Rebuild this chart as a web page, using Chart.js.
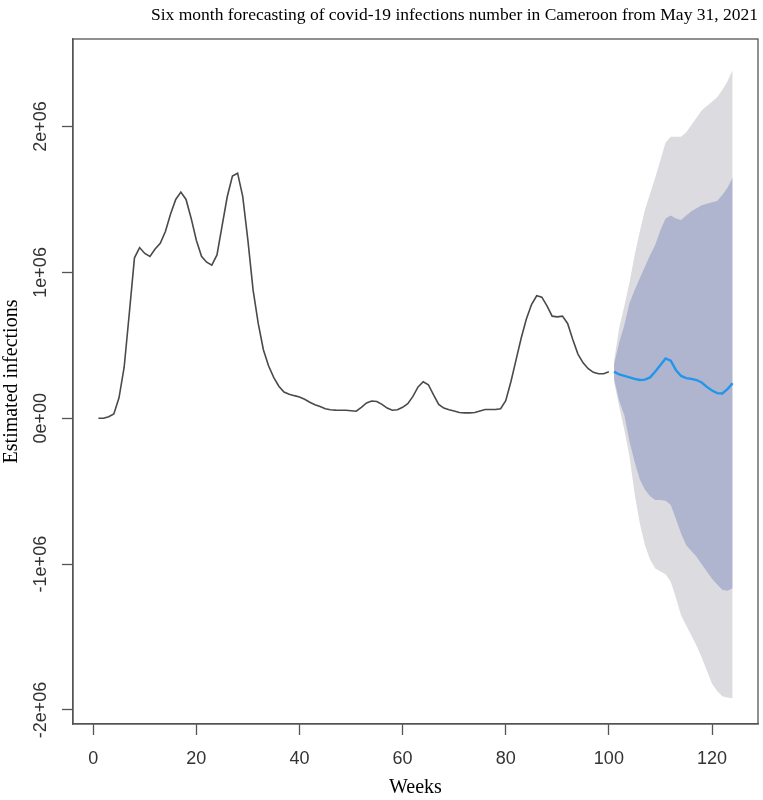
<!DOCTYPE html>
<html><head><meta charset="utf-8">
<script src="https://cdn.jsdelivr.net/npm/chart.js@4.4.1/dist/chart.umd.min.js"></script>
<style>html,body{margin:0;padding:0;background:#fff;}#wrap{width:763px;height:800px;}canvas{display:block;}</style>
</head><body>
<div id="wrap"><canvas id="c" width="763" height="800"></canvas></div>
<script>
const chartTitle = 'Six month forecasting of covid-19 infections number in Cameroon from May 31, 2021';
const xTitle = 'Weeks';
const yTitle = 'Estimated infections';

const histWeeks = [1,2,3,4,5,6,7,8,9,10,11,12,13,14,15,16,17,18,19,20,21,22,23,24,25,26,27,28,29,30,31,32,33,34,35,36,37,38,39,40,41,42,43,44,45,46,47,48,49,50,51,52,53,54,55,56,57,58,59,60,61,62,63,64,65,66,67,68,69,70,71,72,73,74,75,76,77,78,79,80,81,82,83,84,85,86,87,88,89,90,91,92,93,94,95,96,97,98,99,100];
const histValues = [0,0,10000,30000,140000,350000,720000,1100000,1170000,1130000,
  1110000,1160000,1200000,1280000,1400000,1500000,1550000,1500000,1370000,1220000,
  1110000,1070000,1050000,1120000,1320000,1520000,1660000,1680000,1520000,1220000,
  880000,650000,470000,360000,280000,220000,180000,165000,155000,146000,
  130000,110000,93000,80000,65000,58000,56000,55000,55000,52000,
  48000,75000,105000,118000,115000,95000,70000,55000,58000,75000,
  100000,150000,215000,250000,230000,160000,95000,70000,58000,50000,
  40000,37000,37000,40000,50000,60000,60000,60000,65000,120000,
  250000,400000,550000,680000,780000,840000,830000,770000,700000,695000,
  700000,650000,540000,440000,380000,340000,315000,305000,305000,318000];

const fcWeeks = [101,102,103,104,105,106,107,108,109,110,111,112,113,114,115,116,117,118,119,120,121,122,123,124];
const fcMean = [320000,300000,290000,280000,270000,262000,265000,280000,320000,365000,410000,395000,330000,290000,275000,270000,262000,245000,215000,190000,172000,170000,200000,240000];
const fcUpper80 = [370000,520000,640000,790000,880000,960000,1040000,1120000,1190000,1290000,1370000,1390000,1370000,1360000,1390000,1420000,1440000,1460000,1470000,1480000,1490000,1530000,1580000,1650000];
const fcLower80 = [270000,120000,20000,-160000,-300000,-420000,-490000,-535000,-560000,-560000,-565000,-595000,-690000,-790000,-870000,-910000,-950000,-1000000,-1050000,-1100000,-1140000,-1176000,-1183000,-1165000];
const fcUpper95 = [390000,620000,770000,930000,1120000,1280000,1430000,1540000,1650000,1770000,1890000,1930000,1930000,1930000,1960000,2010000,2060000,2110000,2140000,2170000,2200000,2250000,2310000,2390000];
const fcLower95 = [250000,80000,-80000,-260000,-520000,-720000,-870000,-970000,-1030000,-1050000,-1070000,-1120000,-1230000,-1350000,-1420000,-1490000,-1560000,-1640000,-1730000,-1820000,-1870000,-1905000,-1915000,-1920000];

const xTickValues = [0,20,40,60,80,100,120];
const yTickValues = [-2000000,-1000000,0,1000000,2000000];
const yTickLabels = ['-2e+06','-1e+06','0e+00','1e+06','2e+06'];

const pts = (xs, ys) => xs.map((x, i) => ({x: x, y: ys[i]}));

const framePlugin = {
  id: 'frame',
  afterDraw(chart) {
    const {ctx, chartArea: a} = chart;
    ctx.save();
    ctx.strokeStyle = '#555';
    ctx.lineWidth = 1.3;
    ctx.strokeRect(a.left, a.top, a.right - a.left, a.bottom - a.top);
    ctx.restore();
  }
};

const tickFont = {family: 'Liberation Sans', size: 18};
const serif = 'Liberation Serif';

new Chart(document.getElementById('c'), {
  type: 'line',
  data: {
    datasets: [
      {label: 'lo95', data: pts(fcWeeks, fcLower95), borderWidth: 0, pointRadius: 0, fill: false, order: 5},
      {label: 'hi95', data: pts(fcWeeks, fcUpper95), borderWidth: 0, pointRadius: 0, fill: '-1', backgroundColor: '#dbdbe0', order: 4},
      {label: 'lo80', data: pts(fcWeeks, fcLower80), borderWidth: 0, pointRadius: 0, fill: false, order: 3},
      {label: 'hi80', data: pts(fcWeeks, fcUpper80), borderWidth: 0, pointRadius: 0, fill: '-1', backgroundColor: '#b0b5cf', order: 2},
      {label: 'history', data: pts(histWeeks, histValues), borderColor: '#4a4a4a', borderWidth: 1.6, pointRadius: 0, fill: false, tension: 0, order: 1},
      {label: 'forecast', data: pts(fcWeeks, fcMean), borderColor: '#2196ea', borderWidth: 2.4, pointRadius: 0, fill: false, tension: 0, order: 0}
    ]
  },
  options: {
    responsive: false,
    animation: false,
    devicePixelRatio: 1,
    layout: {padding: {left: 0, right: 5, top: 0, bottom: 0}},
    plugins: {
      legend: {display: false},
      tooltip: {enabled: false},
      title: {
        display: true, text: chartTitle, align: 'end', color: '#000',
        font: {family: serif, size: 17.5, weight: 'normal'},
        padding: {top: 5, bottom: 13}
      }
    },
    scales: {
      x: {
        type: 'linear', min: -3.92, max: 128.92,
        afterBuildTicks: s => { s.ticks = xTickValues.map(v => ({value: v})); },
        afterFit: s => { s.height = 76; },
        ticks: {font: tickFont, color: '#333', padding: 13, maxRotation: 0, autoSkip: false},
        grid: {drawOnChartArea: false, drawTicks: true, tickLength: 11, tickColor: '#555', tickWidth: 1.3},
        border: {display: true, color: '#555', width: 1.3},
        title: {display: true, text: xTitle, color: '#000', font: {family: serif, size: 20}, padding: 0}
      },
      y: {
        type: 'linear', min: -2096000, max: 2600000,
        afterBuildTicks: s => { s.ticks = yTickValues.map(v => ({value: v})); },
        afterFit: s => { s.width = 73; },
        ticks: {
          font: tickFont, color: '#333', autoSkip: false,
          minRotation: 90, maxRotation: 90, crossAlign: 'center', padding: -7,
          callback: (v, i) => yTickLabels[i]
        },
        grid: {drawOnChartArea: false, drawTicks: true, tickLength: 11, tickColor: '#555', tickWidth: 1.3},
        border: {display: true, color: '#555', width: 1.3},
        title: {display: true, text: yTitle, color: '#000', font: {family: serif, size: 20}, padding: 0}
      }
    }
  },
  plugins: [framePlugin]
});
</script>
</body></html>
